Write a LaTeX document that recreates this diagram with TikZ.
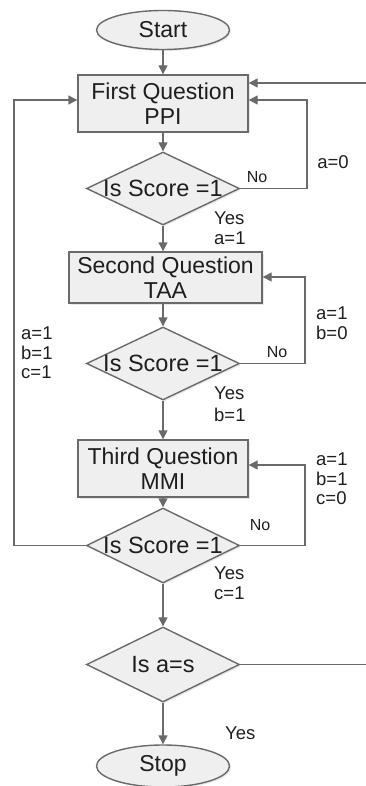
\documentclass[tikz,border=0pt]{standalone}
\usepackage{fontspec}
\setmainfont{Liberation Sans}
\usetikzlibrary{shapes.geometric,arrows.meta,shadows}
\definecolor{linegray}{HTML}{6A6A6A}
\definecolor{fillgray}{HTML}{EFEFEF}
\definecolor{txt}{HTML}{1E1E1E}
\tikzset{
  base/.style={draw=linegray, line width=1.4pt, fill=fillgray, text=txt, inner sep=0pt,
    drop shadow={opacity=0.18, shadow xshift=1.5pt, shadow yshift=-1.5pt}},
  terminal/.style={base, ellipse, font=\fontsize{23}{25}\selectfont},
  procbox/.style={base, rectangle, align=center, font=\fontsize{23}{24.5}\selectfont},
  decision/.style={base, diamond, font=\fontsize{23.5}{25}\selectfont},
  conn/.style={draw=linegray, line width=1.4pt, -{Triangle[length=9pt,width=9pt]}},
  plain/.style={draw=linegray, line width=1.4pt},
  lbl/.style={text=txt, inner sep=0pt, align=left, font=\fontsize{18.5}{19.5}\selectfont},
  nolbl/.style={text=txt, inner sep=0pt, font=\fontsize{16}{17}\selectfont}
}
\begin{document}
\begin{tikzpicture}[x=1pt, y=-1pt]
\useasboundingbox (0,0) rectangle (366,786);
% nodes
\node[terminal, minimum width=133pt, minimum height=39pt] (start) at (163,30) {Start};
\node[procbox, minimum width=170pt, minimum height=57pt] (q1) at (163,103.5) {First Question\\PPI};
\node[decision, minimum width=153pt, minimum height=73pt] (d1) at (163,188.5) {\makebox[0pt]{Is Score =1}};
\node[procbox, minimum width=193pt, minimum height=51pt] (q2) at (165.5,277.5) {Second Question\\TAA};
\node[decision, minimum width=153pt, minimum height=73pt] (d2) at (163,363.5) {\makebox[0pt]{Is Score =1}};
\node[procbox, minimum width=170pt, minimum height=57pt] (q3) at (163,468.5) {Third Question\\MMI};
\node[decision, minimum width=153pt, minimum height=75pt] (d3) at (163,545.5) {\makebox[0pt]{Is Score =1}};
\node[decision, minimum width=153pt, minimum height=75pt] (d4) at (163,664.5) {\makebox[0pt]{Is a=s}};
\node[terminal, minimum width=133pt, minimum height=42pt] (stop) at (163,766) {Stop};
% coordinates
\coordinate (r1) at (307,100);
\coordinate (r2) at (305,277);
\coordinate (r3) at (305,465);
\coordinate (l1) at (14,100);
\coordinate (topin) at (366,83);
\coordinate (d4out) at (366,664.5);
% main flow
\draw[conn] (start) -- (q1);
\draw[conn] (q1) -- (d1);
\draw[conn] (d1.south) -- (d1.south |- q2.north);
\draw[conn] (q2.south -| d2.north) -- (d2);
\draw[conn] (d2.south) -- (d2.south |- q3.north);
\draw[conn] (q3) -- (d3);
\draw[conn] (d3) -- (d4);
\draw[conn] (d4) -- (stop);
% loops
\draw[conn] (d1.east) -| (r1) -- (r1 -| q1.east);
\draw[conn] (d2.east) -| (r2) -- (r2 -| q2.east);
\draw[conn] (d3.east) -| (r3) -- (r3 -| q3.east);
\draw[conn] (d3.west) -| (l1) -- (l1 -| q1.west);
\draw[conn] (topin) -- (topin -| q1.east);
\draw[plain] (d4.east) -- (d4out);
% labels
\node[nolbl] (no1) at (257,177) {No};
\node[lbl] (a0) at (333,162) {a=0};
\node[lbl, anchor=west] (y1) at (214,218) {Yes};
\node[lbl, anchor=west] (y1b) at (214,238) {a=1};
\node[lbl, anchor=north west] (ab0) at (316,307) {a=1\\b=0};
\node[nolbl] (no2) at (277,352) {No};
\node[lbl, anchor=north west] (abc1) at (21,327) {a=1\\b=1\\c=1};
\node[lbl, anchor=west] (y2) at (214,393) {Yes};
\node[lbl, anchor=west] (y2b) at (214,415) {b=1};
\node[lbl, anchor=north west] (abc0) at (316,453) {a=1\\b=1\\c=0};
\node[nolbl] (no3) at (260,525) {No};
\node[lbl, anchor=west] (y3) at (214,573) {Yes};
\node[lbl, anchor=west] (y3b) at (214,593) {c=1};
\node[lbl, anchor=west] (y4) at (225,733) {Yes};
\end{tikzpicture}
\end{document}
